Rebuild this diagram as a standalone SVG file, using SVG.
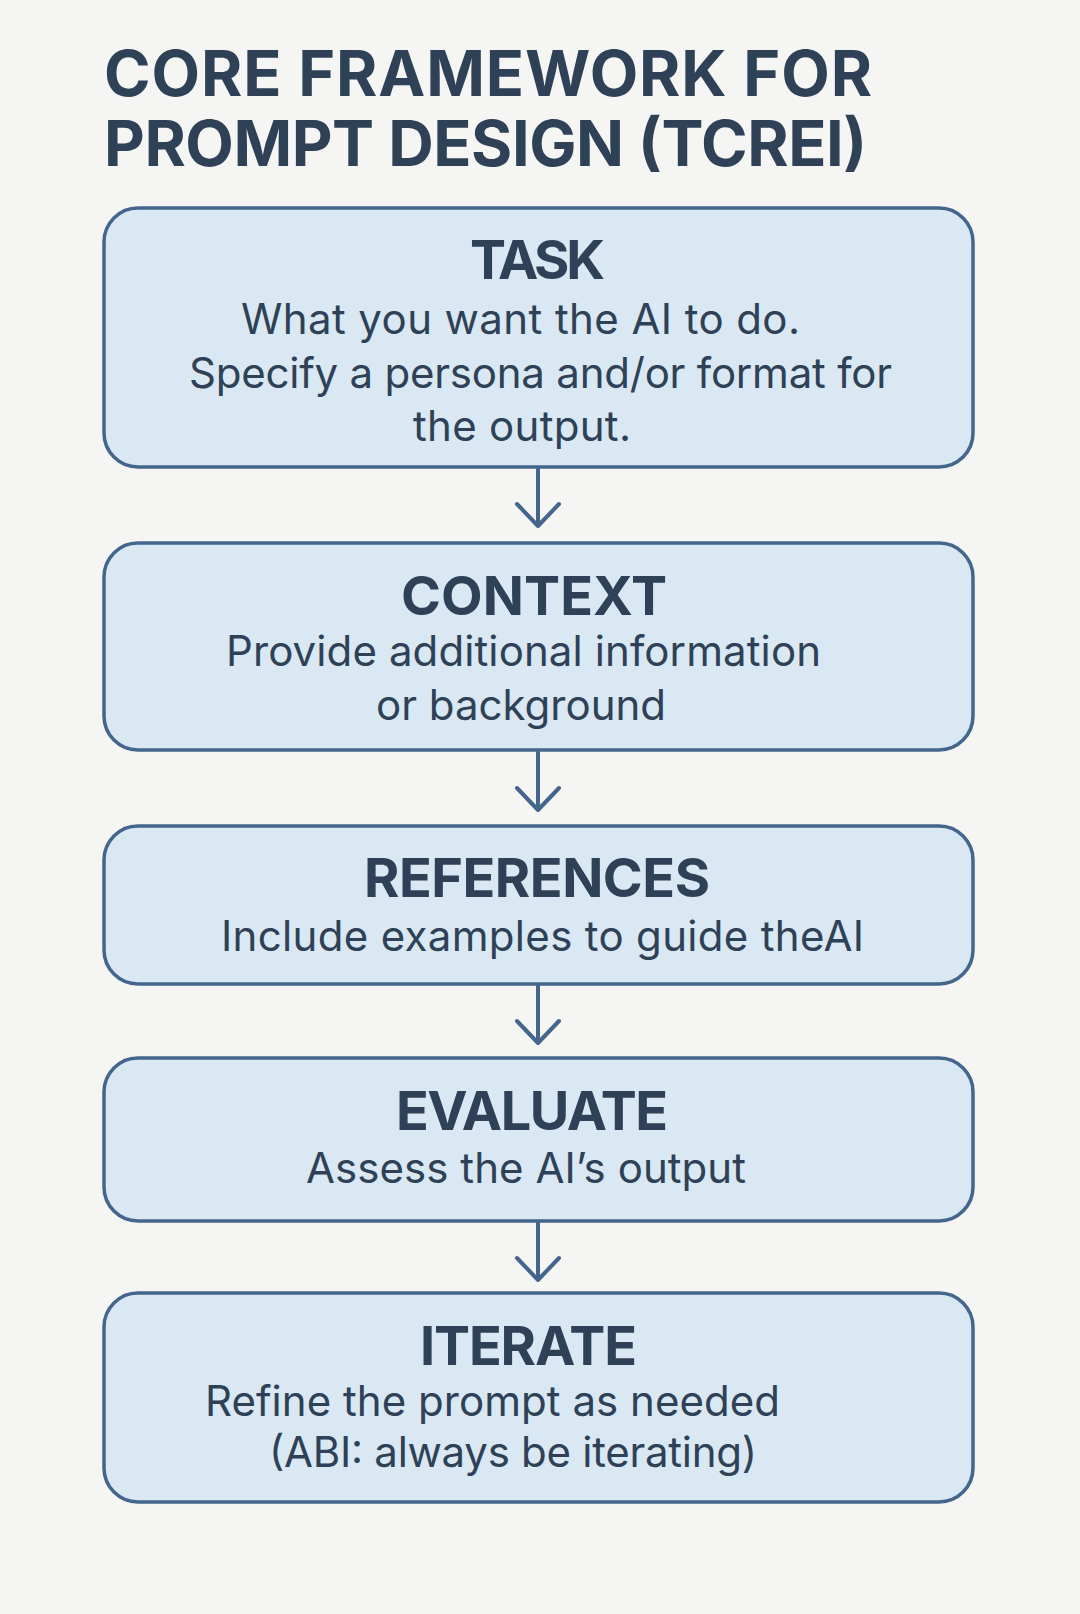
<svg xmlns="http://www.w3.org/2000/svg" width="1080" height="1614" viewBox="0 0 1080 1614">
<style>
.bg{fill:#f5f5f4}
.box{fill:#d9e8f3;stroke:#44668c;stroke-width:3.5}
.title{font-family:Inter,"Open Sans","Liberation Sans",sans-serif;font-weight:700;font-size:63px;fill:#2e4156}
.head{font-family:Inter,"Open Sans","Liberation Sans",sans-serif;font-weight:700;font-size:54px;fill:#2e4156;text-anchor:middle}
.body{font-family:Inter,"Open Sans","Liberation Sans",sans-serif;font-weight:400;font-size:42px;fill:#2e4156;text-anchor:middle}
.arrow{fill:none;stroke:#44668c;stroke-width:4;stroke-linecap:round;stroke-linejoin:round}
</style>
<rect class="bg" x="0" y="0" width="1080" height="1614"/>
<g id="title">
<text class="title" x="104" y="96" textLength="768">CORE FRAMEWORK FOR</text>
<text class="title" x="104" y="166" textLength="763">PROMPT DESIGN (TCREI)</text>
</g>
<g id="connectors">
<path class="arrow" d="M538 469 V526 M517 504 L538 526 L559 504"/>
<path class="arrow" d="M538 752 V810 M517 788 L538 810 L559 788"/>
<path class="arrow" d="M538 986 V1043 M517 1021 L538 1043 L559 1021"/>
<path class="arrow" d="M538 1223 V1280 M517 1258 L538 1280 L559 1258"/>
</g>
<g id="task">
<rect class="box" x="104" y="208" width="869" height="259" rx="34"/>
<text class="head" x="537.5" y="279" textLength="135">TASK</text>
<text class="body" x="520.5" y="334" textLength="559">What you want the AI to do.</text>
<text class="body" x="540.5" y="388" textLength="703">Specify a persona and/or format for</text>
<text class="body" x="522" y="441" textLength="218">the output.</text>
</g>
<g id="context">
<rect class="box" x="104" y="543" width="869" height="207" rx="34"/>
<text class="head" x="534" y="615" textLength="266">CONTEXT</text>
<text class="body" x="523.5" y="666" textLength="595">Provide additional information</text>
<text class="body" x="521" y="720" textLength="290">or background</text>
</g>
<g id="references">
<rect class="box" x="104" y="826" width="869" height="158" rx="34"/>
<text class="head" x="537" y="897" textLength="346">REFERENCES</text>
<text class="body" x="542.5" y="951" textLength="643">Include examples to guide theAI</text>
</g>
<g id="evaluate">
<rect class="box" x="104" y="1058" width="869" height="163" rx="34"/>
<text class="head" x="532" y="1130" textLength="272">EVALUATE</text>
<text class="body" x="526" y="1183" textLength="440">Assess the AI’s output</text>
</g>
<g id="iterate">
<rect class="box" x="104" y="1293" width="869" height="209" rx="34"/>
<text class="head" x="528.5" y="1365" textLength="217">ITERATE</text>
<text class="body" x="492.5" y="1416" textLength="575">Refine the prompt as needed</text>
<text class="body" x="513" y="1467" textLength="488">(ABI: always be iterating)</text>
</g>
</svg>
